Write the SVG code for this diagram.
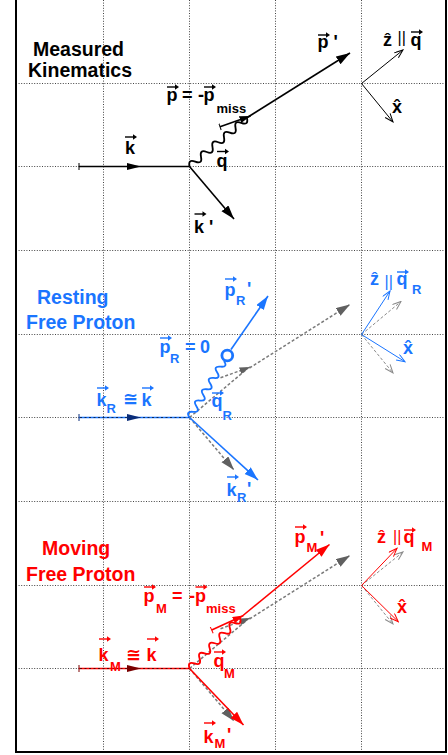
<svg xmlns="http://www.w3.org/2000/svg" xmlns:xlink="http://www.w3.org/1999/xlink" width="448" height="755" viewBox="0 0 448 755">
<style>
.t{font-family:"Liberation Sans",Arial,"DejaVu Sans",sans-serif;font-weight:bold}
.big{font-size:19.5px}
.lb{font-size:18px}
.sb{font-size:13px}
.bar{font-weight:normal;font-size:16px}
.ck{fill:#000}.cb{fill:#1a75ff}.cr{fill:#ff0000}
.grid line{stroke:#444;stroke-width:1;stroke-dasharray:1 1.6}
.ln{fill:none;stroke-width:1.6}
.wv{fill:none;stroke-width:1.8}
.ax{fill:none;stroke-width:1}
.gh{fill:none;stroke:#7a7a7a;stroke-width:1.5;stroke-dasharray:3 2}
.gha{fill:none;stroke:#8a8a8a;stroke-width:1;stroke-dasharray:3 2}
.sk{stroke:#000}.sbl{stroke:#1a75ff}.sr{stroke:#ff0000}
.ov{stroke-dasharray:2 2.5;stroke:#000;stroke-width:1;opacity:.65;fill:none}
</style>
<defs>
<marker id="hK" markerUnits="userSpaceOnUse" markerWidth="15" markerHeight="10" refX="14" refY="4.5" orient="auto"><path d="M0 0 L14 4.5 L0 9 Z" fill="#000"/></marker>
<marker id="hB" markerUnits="userSpaceOnUse" markerWidth="15" markerHeight="10" refX="14" refY="4.5" orient="auto"><path d="M0 0 L14 4.5 L0 9 Z" fill="#1a75ff"/></marker>
<marker id="hR" markerUnits="userSpaceOnUse" markerWidth="15" markerHeight="10" refX="14" refY="4.5" orient="auto"><path d="M0 0 L14 4.5 L0 9 Z" fill="#ff0000"/></marker>
<marker id="hG" markerUnits="userSpaceOnUse" markerWidth="15" markerHeight="10" refX="14" refY="4.5" orient="auto"><path d="M0 0 L14 4.5 L0 9 Z" fill="#606060"/></marker>
<marker id="sK" markerUnits="userSpaceOnUse" markerWidth="12" markerHeight="8" refX="11" refY="3.5" orient="auto"><path d="M0 0 L11 3.5 L0 7 Z" fill="#000"/></marker>
<marker id="sR" markerUnits="userSpaceOnUse" markerWidth="12" markerHeight="8" refX="11" refY="3.5" orient="auto"><path d="M0 0 L11 3.5 L0 7 Z" fill="#ff0000"/></marker>
<marker id="sG" markerUnits="userSpaceOnUse" markerWidth="12" markerHeight="8" refX="11" refY="3.5" orient="auto"><path d="M0 0 L11 3.5 L0 7 Z" fill="#606060"/></marker>
<marker id="oK" markerUnits="userSpaceOnUse" markerWidth="10" markerHeight="8" refX="9" refY="3.5" orient="auto"><path d="M0.5 0.3 L9 3.5 L0.5 6.7" fill="none" stroke="#000" stroke-width="1"/></marker>
<marker id="oB" markerUnits="userSpaceOnUse" markerWidth="10" markerHeight="8" refX="9" refY="3.5" orient="auto"><path d="M0.5 0.3 L9 3.5 L0.5 6.7" fill="none" stroke="#1a75ff" stroke-width="1"/></marker>
<marker id="oR" markerUnits="userSpaceOnUse" markerWidth="10" markerHeight="8" refX="9" refY="3.5" orient="auto"><path d="M0.5 0.3 L9 3.5 L0.5 6.7" fill="none" stroke="#ff0000" stroke-width="1"/></marker>
<marker id="oG" markerUnits="userSpaceOnUse" markerWidth="10" markerHeight="8" refX="9" refY="3.5" orient="auto"><path d="M0.5 0.3 L9 3.5 L0.5 6.7" fill="none" stroke="#8a8a8a" stroke-width="1"/></marker>
<marker id="tK" markerUnits="userSpaceOnUse" markerWidth="2" markerHeight="8" refX="1" refY="3.5" orient="auto"><path d="M1 0 V7" stroke="#000" stroke-width="1"/></marker>
<marker id="tB" markerUnits="userSpaceOnUse" markerWidth="2" markerHeight="8" refX="1" refY="3.5" orient="auto"><path d="M1 0 V7" stroke="#0a2d7a" stroke-width="1"/></marker>
<marker id="tR" markerUnits="userSpaceOnUse" markerWidth="2" markerHeight="8" refX="1" refY="3.5" orient="auto"><path d="M1 0 V7" stroke="#ff0000" stroke-width="1"/></marker>
<marker id="tD" markerUnits="userSpaceOnUse" markerWidth="2" markerHeight="8" refX="1" refY="3.5" orient="auto"><path d="M1 0 V7" stroke="#7a0000" stroke-width="1"/></marker>
<g id="va"><path d="M0 0 H9" fill="none" stroke-width="1.4"/><path d="M8 -2.7 L12 0 L8 2.7 Z" stroke="none"/></g>
</defs>

<rect width="448" height="755" fill="#fff"/>

<g id="grid" class="grid">
<line x1="103.5" y1="0" x2="103.5" y2="752"/>
<line x1="189.5" y1="0" x2="189.5" y2="752"/>
<line x1="275.5" y1="0" x2="275.5" y2="752"/>
<line x1="361.5" y1="0" x2="361.5" y2="752"/>
<line x1="16" y1="83.5" x2="446" y2="83.5"/>
<line x1="16" y1="166.5" x2="446" y2="166.5"/>
<line x1="16" y1="250.5" x2="446" y2="250.5"/>
<line x1="16" y1="334.5" x2="446" y2="334.5"/>
<line x1="16" y1="417.5" x2="446" y2="417.5"/>
<line x1="16" y1="501.5" x2="446" y2="501.5"/>
<line x1="16" y1="585.5" x2="446" y2="585.5"/>
<line x1="16" y1="668.5" x2="446" y2="668.5"/>
</g>
<path id="frame" d="M16 0 V752 H446 V0" fill="none" stroke="#000" stroke-width="2"/>

<g id="connectors">
<!-- panel 1 -->
<path class="ln sk" d="M79 166.5 H189.5" marker-start="url(#tK)"/>
<polygon points="127,163 141,166.5 127,170" fill="#000"/>
<path class="ln sk" d="M189.5 166.5 L234 219" marker-end="url(#hK)"/>
<path class="wv sk" transform="translate(189.5 166.5) rotate(-40.1)" d="M0 0 q3.76 -7 7.52 0 t7.52 0 t7.52 0 t7.52 0 t7.52 0 t7.52 0 t7.52 0 t7.52 0 t7.52 0 t7.52 0"/>
<path class="ln sk" d="M220 126.7 L250.5 116" marker-start="url(#tK)" marker-end="url(#sK)"/>
<path class="ln sk" d="M248 117 L350 53" marker-end="url(#hK)"/>
<path class="ax sk" d="M361.5 83.5 L403 50" marker-end="url(#oK)"/>
<path class="ax sk" d="M361.5 83.5 L393 122" marker-end="url(#oK)"/>

<!-- panel 2 -->
<path class="gh" d="M189.5 417.5 L247 369"/>
<path class="gh" d="M220.5 377.7 L250.5 367" marker-end="url(#sG)"/>
<path class="gh" d="M249.5 368 L350 304.5" marker-end="url(#hG)"/>
<path class="gh" d="M189.5 417.5 L234 470" marker-end="url(#hG)"/>
<path class="gha" d="M361.5 334.5 L401 301.5" marker-end="url(#oG)"/>
<path class="gha" d="M361.5 334.5 L393 373" marker-end="url(#oG)"/>
<path class="ln sbl" d="M79 417.5 H189.5" stroke-width="1.8" marker-start="url(#tB)"/>
<path class="ov" d="M80 417.5 H189.5"/>
<polygon points="127,414 141,417.5 127,421" fill="#0a2d7a"/>
<path class="wv sbl" transform="translate(189.5 417.5) rotate(-58.6)" d="M0 0 q3.31 -7 6.62 0 t6.62 0 t6.62 0 t6.62 0 t6.62 0 t6.62 0 t6.62 0 t6.62 0 t6.62 0 t6.62 0"/>
<path class="ln sbl" d="M231 349.5 L268 296" marker-end="url(#hB)"/>
<path class="ln sbl" d="M189.5 417.5 L258 480" marker-end="url(#hB)"/>
<path class="ax sbl" d="M361.5 334.5 L390 291" marker-end="url(#oB)"/>
<path class="ax sbl" d="M361.5 334.5 L405 361.7" marker-end="url(#oB)"/>

<!-- panel 3 -->
<path class="gh" d="M189.5 668.5 L247 620"/>
<path class="gh" d="M220.5 628.7 L250.5 618" marker-end="url(#sG)"/>
<path class="gh" d="M249.5 619 L350 555.5" marker-end="url(#hG)"/>
<path class="gh" d="M189.5 668.5 L234 721" marker-end="url(#hG)"/>
<path class="gha" d="M361.5 585.5 L403 552" marker-end="url(#oG)"/>
<path class="gha" d="M361.5 585.5 L393 624" marker-end="url(#oG)"/>
<path class="ln sr" d="M79 668.5 H189.5" stroke-width="1.8" marker-start="url(#tD)"/>
<path class="ov" d="M80 668.5 H189.5"/>
<polygon points="127,665 141,668.5 127,672" fill="#7a0000"/>
<path class="wv sr" transform="translate(189.5 668.5) rotate(-45)" d="M0 0 q3.57 -7 7.14 0 t7.14 0 t7.14 0 t7.14 0 t7.14 0 t7.14 0 t7.14 0 t7.14 0 t7.14 0 t7.14 0"/>
<path class="ln sr" d="M211.7 630 L243.5 615.5" marker-start="url(#tR)" marker-end="url(#sR)"/>
<path class="ln sr" d="M243 615.5 L329.5 544.5" marker-end="url(#hR)"/>
<path class="ln sr" d="M189.5 668.5 L243.5 725" marker-end="url(#hR)"/>
<path class="ax sr" d="M361.5 585.5 L397 548.3" marker-end="url(#oR)"/>
<path class="ax sr" d="M361.5 585.5 L398.3 621.7" marker-end="url(#oR)"/>
</g>

<!-- ===== Panel 1 nodes ===== -->
<g id="title-measured" class="t big ck">
<text x="33" y="56">Measured</text>
<text x="28" y="77">Kinematics</text>
</g>
<g id="label-k" class="t lb ck">
<text x="125" y="154">k</text>
<use xlink:href="#va" x="125" y="137" fill="#000" stroke="#000"/>
</g>
<g id="label-kprime" class="t lb ck">
<text x="194" y="233">k '</text>
<use xlink:href="#va" x="194.5" y="214" fill="#000" stroke="#000"/>
</g>
<g id="label-q" class="t lb ck">
<text x="216.5" y="166.5">q</text>
<use xlink:href="#va" x="217" y="151.5" fill="#000" stroke="#000"/>
</g>
<g id="label-pprime" class="t lb ck">
<text x="317.5" y="48">p '</text>
<use xlink:href="#va" x="318" y="35" fill="#000" stroke="#000"/>
</g>
<g id="label-p" class="t lb ck">
<text y="101"><tspan x="166.5">p</tspan><tspan x="182">=</tspan><tspan x="198">-</tspan><tspan x="203.5">p</tspan><tspan x="216.5" y="113" class="sb">miss</tspan></text>
<use xlink:href="#va" x="167" y="87" fill="#000" stroke="#000"/>
<use xlink:href="#va" x="204" y="87" fill="#000" stroke="#000"/>
</g>
<g id="axes-label-1" class="t lb ck">
<text x="383" y="46">ẑ</text>
<text x="397.5" y="43.3" class="bar">||</text>
<text x="410.5" y="46">q</text>
<use xlink:href="#va" x="411" y="32" fill="#000" stroke="#000"/>
<text x="392" y="113">x̂</text>
</g>

<!-- ===== Panel 2 nodes ===== -->
<g id="title-resting" class="t big cb">
<text x="37" y="304">Resting</text>
<text x="26" y="329">Free Proton</text>
</g>
<g id="proton-rest">
<circle cx="227.3" cy="355.5" r="5.4" fill="none" stroke="#1a75ff" stroke-width="2.8"/>
</g>
<g id="label-pR0" class="t lb cb">
<text x="159.5" y="353">p</text>
<text x="170" y="363" class="sb">R</text>
<text x="185" y="353">=</text>
<text x="200" y="353">0</text>
<use xlink:href="#va" x="160" y="338" fill="#1a75ff" stroke="#1a75ff"/>
</g>
<g id="label-pRprime" class="t lb cb">
<text x="224.5" y="296">p</text>
<text x="236" y="305" class="sb">R</text>
<text x="247" y="295">'</text>
<use xlink:href="#va" x="225" y="279" fill="#1a75ff" stroke="#1a75ff"/>
</g>
<g id="label-qR" class="t lb cb">
<text x="211.5" y="407">q</text>
<text x="222.5" y="420" class="sb">R</text>
<use xlink:href="#va" x="212" y="393" fill="#1a75ff" stroke="#1a75ff"/>
</g>
<g id="label-kR" class="t lb cb">
<text x="96.5" y="405.5">k</text>
<text x="106.5" y="412.5" class="sb">R</text>
<text x="123" y="405">≅</text>
<text x="141.5" y="405.5">k</text>
<use xlink:href="#va" x="97" y="388" fill="#1a75ff" stroke="#1a75ff"/>
<use xlink:href="#va" x="142" y="388" fill="#1a75ff" stroke="#1a75ff"/>
</g>
<g id="label-kRprime" class="t lb cb">
<text x="226.5" y="496">k</text>
<text x="237" y="501.5" class="sb">R</text>
<text x="247" y="495">'</text>
<use xlink:href="#va" x="227" y="477" fill="#1a75ff" stroke="#1a75ff"/>
</g>
<g id="axes-label-2" class="t lb cb">
<text x="370" y="285">ẑ</text>
<text x="384.5" y="286.6" class="bar">||</text>
<text x="396.5" y="285">q</text>
<use xlink:href="#va" x="397" y="272" fill="#1a75ff" stroke="#1a75ff"/>
<text x="412" y="294" class="sb">R</text>
<text x="403" y="354">x̂</text>
</g>

<!-- ===== Panel 3 nodes ===== -->
<g id="title-moving" class="t big cr">
<text x="42" y="555">Moving</text>
<text x="26" y="581">Free Proton</text>
</g>
<g id="label-pMprime" class="t lb cr">
<text x="294.5" y="543">p</text>
<text x="306.5" y="552" class="sb">M</text>
<text x="320" y="544">'</text>
<use xlink:href="#va" x="295" y="527" fill="#ff0000" stroke="#ff0000"/>
</g>
<g id="label-pM" class="t lb cr">
<text y="602"><tspan x="143.5">p</tspan><tspan x="156" y="612.5" class="sb">M</tspan><tspan x="172" y="602">=</tspan><tspan x="189">-</tspan><tspan x="195">p</tspan><tspan x="206" y="613.3" class="sb">miss</tspan></text>
<use xlink:href="#va" x="144" y="587" fill="#ff0000" stroke="#ff0000"/>
<use xlink:href="#va" x="195.5" y="587" fill="#ff0000" stroke="#ff0000"/>
</g>
<g id="label-kM" class="t lb cr">
<text x="98.5" y="661">k</text>
<text x="110" y="671" class="sb">M</text>
<text x="126" y="661">≅</text>
<text x="146.5" y="661">k</text>
<use xlink:href="#va" x="99" y="639" fill="#ff0000" stroke="#ff0000"/>
<use xlink:href="#va" x="147" y="639" fill="#ff0000" stroke="#ff0000"/>
</g>
<g id="label-qM" class="t lb cr">
<text x="213.5" y="667">q</text>
<text x="224" y="678" class="sb">M</text>
<use xlink:href="#va" x="214" y="652" fill="#ff0000" stroke="#ff0000"/>
</g>
<g id="label-kMprime" class="t lb cr">
<text x="203.5" y="743">k</text>
<text x="214.5" y="748" class="sb">M</text>
<text x="227" y="741">'</text>
<use xlink:href="#va" x="204" y="723" fill="#ff0000" stroke="#ff0000"/>
</g>
<g id="axes-label-3" class="t lb cr">
<text x="377" y="543">ẑ</text>
<text x="393" y="541.6" class="bar">||</text>
<text x="403.5" y="543">q</text>
<use xlink:href="#va" x="404" y="530" fill="#ff0000" stroke="#ff0000"/>
<text x="421.5" y="551" class="sb">M</text>
<text x="397" y="613">x̂</text>
</g>
</svg>
